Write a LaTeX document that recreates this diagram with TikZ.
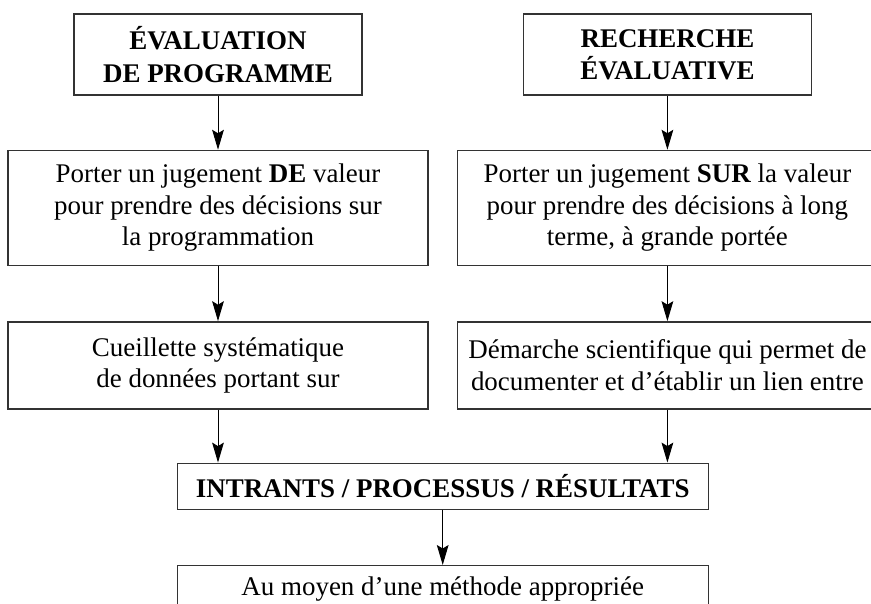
\documentclass[tikz,border=0pt]{standalone}
\usepackage{fontspec}
\setmainfont{Liberation Serif}
\usepackage{tikz}
\usepackage{xcolor}
\usetikzlibrary{
  arrows.meta, calc, positioning
}
\definecolor{boxline}{HTML}{333333}
\definecolor{textdark}{HTML}{000000}
\tikzset{
  % Framed boxes of the chart
  chartbox/.style={
    draw=boxline, fill=white,
    minimum height=#1, align=center,
    font=\fontsize{23}{27}\selectfont, text=textdark,
    inner sep=4pt, line width=1.2pt,
  },
  % Title boxes at the top
  headbox/.style={
    chartbox=2.43cm, minimum width=8.64cm,
    font=\fontsize{23}{27.5}\selectfont\bfseries,
  },
  % Column boxes
  colbox/.style={
    chartbox=#1, minimum width=12.6cm,
  },
  % Joint boxes in the middle
  midbox/.style={
    chartbox=1.38cm, minimum width=15.93cm,
  },
  % Arrows
  arr/.style={-{Stealth[length=17pt, width=10pt, inset=3pt]}, line width=0.8pt, textdark},
}

\begin{document}
\begin{tikzpicture}[node distance=1.62cm]
    \useasboundingbox (0,0) rectangle (26.13,-18.09);
    \clip (0,0) rectangle (26.13,-18.09);
    % top titles
    \node[headbox] (eval) at (6.54,-1.635)
      {ÉVALUATION\\DE PROGRAMME};
    \node[headbox, right=4.8cm of eval] (rech)
      {RECHERCHE\\ÉVALUATIVE};
    % judgement
    \node[colbox=3.45cm, below=of eval] (jugde)
      {Porter un jugement \textbf{DE} valeur\\pour prendre des décisions sur\\la programmation};
    \node[colbox=3.45cm, below=of rech] (jugsur)
      {Porter un jugement \textbf{SUR} la valeur\\pour prendre des décisions à long\\terme, à grande portée};
    % method of each side
    \node[colbox=2.61cm, below=1.65cm of jugde] (cueil)
      {Cueillette systématique\\de données portant sur};
    \node[colbox=2.61cm, below=1.65cm of jugsur] (demar)
      {Démarche scientifique qui permet de\\documenter et d’établir un lien entre};
    % joint part
    \coordinate (mid) at ($(cueil.south)!0.5!(demar.south)$);
    \node[midbox, below=1.59cm of mid, font=\fontsize{23}{27}\selectfont\bfseries] (intr)
      {INTRANTS / PROCESSUS / RÉSULTATS};
    \node[midbox, below=1.65cm of intr] (moyen)
      {Au moyen d’une méthode appropriée};
    \draw[arr] (eval) -- (jugde);
    \draw[arr] (rech) -- (jugsur);
    \draw[arr] (jugde) -- (cueil);
    \draw[arr] (jugsur) -- (demar);
    \draw[arr] (cueil.south) -- (cueil.south |- intr.north);
    \draw[arr] (demar.south) -- (demar.south |- intr.north);
    \draw[arr] (intr) -- (moyen);
  \end{tikzpicture}
\end{document}
